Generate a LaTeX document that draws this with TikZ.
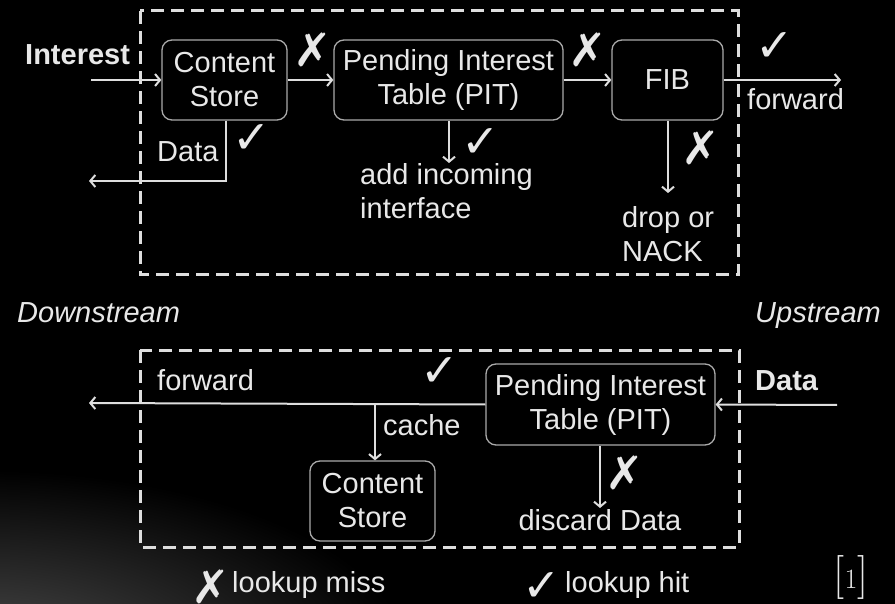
\documentclass[tikz,border=0pt]{standalone}
\usepackage{fontspec}
\setmainfont{Liberation Sans}
\newfontfamily\symfont{DejaVu Sans}
\usetikzlibrary{arrows.meta}
\definecolor{linec}{RGB}{222,222,222}
\definecolor{txtc}{RGB}{232,232,232}
\definecolor{boxc}{RGB}{170,170,170}
\begin{document}
\begin{tikzpicture}[x=1pt,y=-1pt,
  box/.style={draw=boxc, line width=1.3pt, rounded corners=10pt, minimum height=80pt,
    text=txtc, font=\fontsize{29}{34}\selectfont, align=center, inner sep=0pt},
  lbl/.style={text=txtc, font=\fontsize{29}{34}\selectfont, inner sep=0pt},
  sym/.style={text=txtc, font=\symfont\fontsize{46}{46}\selectfont, inner sep=0pt},
  arr/.style={draw=linec, line width=2pt, -{Straight Barb[length=5pt,width=12pt,line width=2pt]}},
  frame/.style={draw=linec, line width=3pt, dash pattern=on 13pt off 7pt}
]
\useasboundingbox (0,0) rectangle (895,604);
\fill[black] (0,0) rectangle (895,604);
\begin{scope}
  \clip (0,0) rectangle (895,604);
  \shade[inner color=black!70!white, outer color=black] (-20,660) ellipse (430 and 190);
\end{scope}

% ---------- top: Interest path ----------
\draw[frame] (140,11) rectangle (738,275);
\node[box, minimum width=125pt] (cs1) at (224.5,80) {Content\\Store};
\node[box, minimum width=229pt] (pit1) at (448.5,80) {Pending Interest\\Table (PIT)};
\node[box, minimum width=111pt] (fib) at (667.5,80) {FIB};

\node[lbl, anchor=base west, font=\bfseries\fontsize{29}{34}\selectfont] (interest) at (25,65) {Interest};
\coordinate (inStart) at (91,80);
\coordinate (fwdEnd) at (841,80);
\coordinate (dataEnd) at (89,181);
\coordinate (pitDown) at (449,163);
\coordinate (fibDown) at (668,193);

\draw[arr] (inStart) -- (cs1.west);
\draw[arr] (cs1.east) -- (pit1.west);
\draw[arr] (pit1.east) -- (fib.west);
\draw[arr] (fib.east) -- (fwdEnd);
\draw[arr] (cs1.south -| 226,0) |- (dataEnd);
\draw[arr] (pit1.south -| pitDown) -- (pitDown);
\draw[arr] (fib.south -| fibDown) -- (fibDown);

\node[sym] (x1) at (313,50) {✗};
\node[sym] (x2) at (588,50) {✗};
\node[sym] (c1) at (775,47) {✓};
\node[sym] (c2) at (252,139) {✓};
\node[sym] (c3) at (481,143) {✓};
\node[sym] (x3) at (701,148) {✗};

\node[lbl, anchor=base west] (fwd1) at (747,110) {forward};
\node[lbl, anchor=base west] (data1) at (157,162) {Data};
\node[lbl, anchor=base west] (add1) at (360,185) {add incoming};
\node[lbl, anchor=base west] (add2) at (360,219) {interface};
\node[lbl, anchor=base west] (drop1) at (622,228) {drop or};
\node[lbl, anchor=base west] (drop2) at (622,262) {NACK};

\node[lbl, anchor=base west, font=\itshape\fontsize{29}{34}\selectfont] (down) at (17,323) {Downstream};
\node[lbl, anchor=base west, font=\itshape\fontsize{29}{34}\selectfont] (up) at (755,323) {Upstream};

% ---------- bottom: Data path ----------
\draw[frame] (140,350) rectangle (739,547);
\node[box, minimum width=229pt, minimum height=81pt] (pit2) at (600.5,404.5) {Pending Interest\\Table (PIT)};
\node[box, minimum width=125pt] (cs2) at (372.5,501) {Content\\Store};

\coordinate (dataIn) at (837,405);
\coordinate (fwd2End) at (89,403);
\coordinate (cacheSplit) at (375,403);
\coordinate (discard) at (600,508);

\node[lbl, anchor=base west, font=\bfseries\fontsize{29}{34}\selectfont] (data2) at (755,390) {Data};
\draw[arr] (dataIn) -- (pit2.east);
\draw[arr] (pit2.west) -- (fwd2End);
\draw[arr] (cacheSplit) -- (cs2.north -| cacheSplit);
\draw[arr] (pit2.south -| discard) -- (discard);

\node[lbl, anchor=base west] (fwd2) at (157,390) {forward};
\node[lbl, anchor=base west] (cache) at (383,435) {cache};
\node[sym] (c4) at (440,372) {✓};
\node[sym] (x4) at (625,473) {✗};
\node[lbl, anchor=base] (disc) at (600,530) {discard Data};

% ---------- legend ----------
\node[sym] (lx) at (211,587) {✗};
\node[lbl, anchor=base west] (lmiss) at (232,592) {lookup miss};
\node[sym] (lc) at (542,587) {✓};
\node[lbl, anchor=base west] (lhit) at (565,592) {lookup hit};
\node[text=txtc, inner sep=0pt, font=\fontspec{Latin Modern Roman}\fontsize{44}{44}\selectfont] (ref) at (851,577) {[{\fontsize{28}{28}\selectfont 1}]};
\end{tikzpicture}
\end{document}
